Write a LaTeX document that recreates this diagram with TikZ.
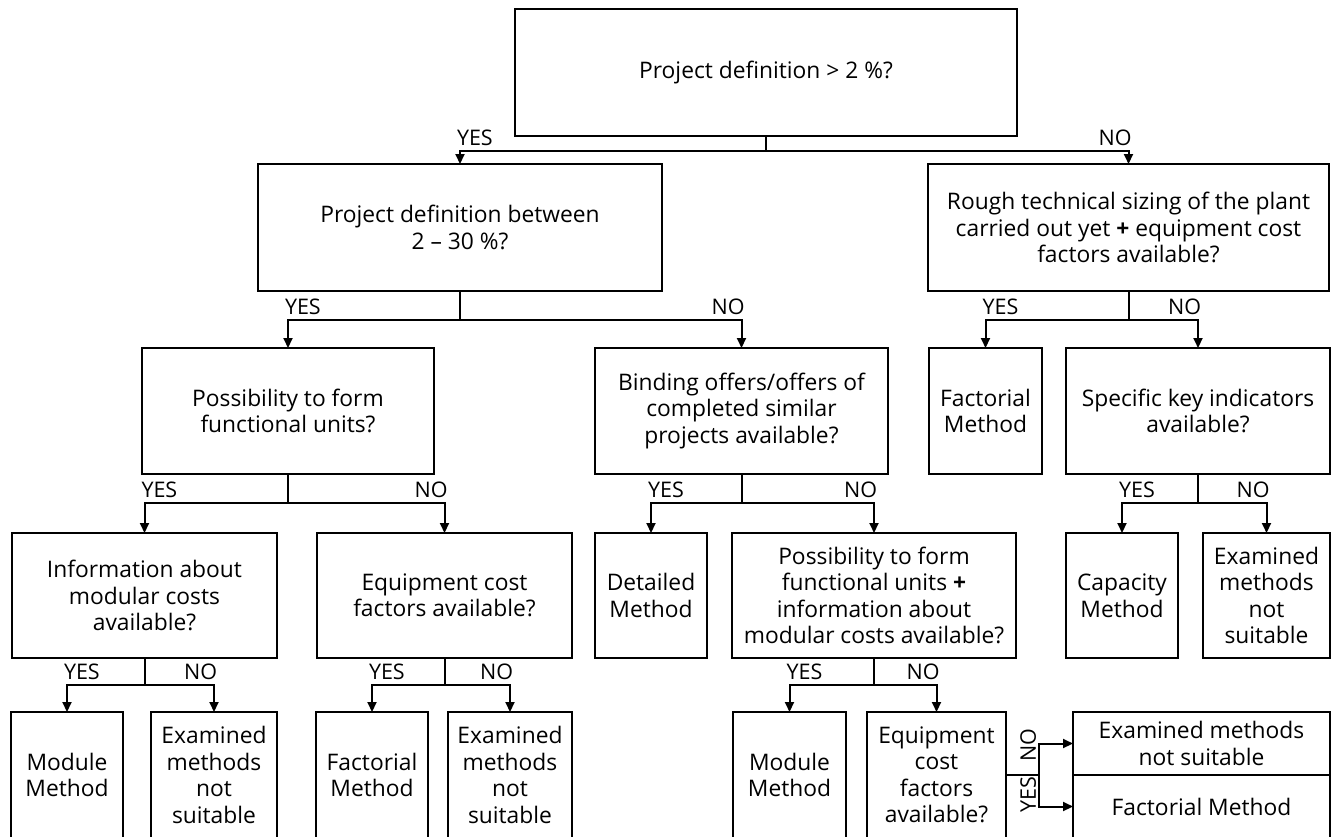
\documentclass[tikz,border=0pt]{standalone}
\usepackage{fontspec}
\setmainfont{Open Sans}
\usetikzlibrary{arrows.meta}

\begin{document}
\begin{tikzpicture}[
    x=1pt, y=-1pt,
    every node/.style={align=center, inner sep=0pt, outer sep=0pt},
    qbox/.style 2 args={draw, line width=2.2pt, minimum width=#1pt, minimum height=#2pt,
        font=\fontsize{22.8}{26.5}\selectfont},
    yes/.style={pos=0.5, anchor=south west, xshift=-3pt, yshift=5pt, font=\fontsize{21.5}{21.5}\selectfont},
    no/.style={pos=0.5, anchor=south east, xshift=3pt, yshift=5pt, font=\fontsize{21.5}{21.5}\selectfont},
    sidelbl/.style={rotate=90, anchor=south, font=\fontsize{21.5}{21.5}\selectfont},
    branch/.style={line width=2pt, -{Triangle[length=10pt,width=9pt]}}
]
    \clip (0,0) rectangle (1331,836);

    \node[qbox={502}{127}] (root) at (766,72.5) {Project definition > 2~\%?};

    \node[qbox={404}{127}] (defRange) at (460,227.5) {Project definition between\\2 -- 30~\%?};
    \node[qbox={401}{127}] (roughSize) at (1128.5,227.5) {Rough technical sizing of the plant\\carried out yet \textbf{+} equipment cost\\factors available?};

    \node[qbox={292}{126}] (funcUnits) at (288,411) {Possibility to form\\functional units?};
    \node[qbox={293}{126}] (offers) at (741.5,411) {Binding offers/offers of\\completed similar\\projects available?};
    \node[qbox={113}{126}] (factTop) at (985.5,411) {Factorial\\Method};
    \node[qbox={264}{126}] (keyInd) at (1198,411) {Specific key indicators\\available?};

    \node[qbox={265}{125}] (modInfo) at (144.5,595.5) {Information about\\modular costs\\available?};
    \node[qbox={255}{125}] (equipCost) at (444.5,595.5) {Equipment cost\\factors available?};
    \node[qbox={112}{125}] (detailed) at (651,595.5) {Detailed\\Method};
    \node[qbox={284}{125}] (funcMod) at (874,595.5) {Possibility to form\\functional units \textbf{+}\\information about\\modular costs available?};
    \node[qbox={112}{125}] (capacity) at (1122,595.5) {Capacity\\Method};
    \node[qbox={127}{125}] (notSuitA) at (1266.5,595.5) {Examined\\methods\\not\\suitable};

    \node[qbox={112}{126}] (moduleA) at (67,775) {Module\\Method};
    \node[qbox={126}{126}] (notSuitB) at (214,775) {Examined\\methods\\not\\suitable};
    \node[qbox={112}{126}] (factMid) at (372,775) {Factorial\\Method};
    \node[qbox={124}{126}] (notSuitC) at (510,775) {Examined\\methods\\not\\suitable};
    \node[qbox={113}{126}] (moduleB) at (789.5,775) {Module\\Method};
    \node[qbox={139}{126}] (equipB) at (936.5,775) {Equipment\\cost\\factors\\available?};
    \node[qbox={257}{63}] (notSuitD) at (1201.5,743.5) {Examined methods\\not suitable};
    \node[qbox={257}{63}] (factEnd) at (1201.5,806.5) {Factorial Method};

    \draw[branch] (root.south) -- ++(0,15) -| node[yes] {YES} (defRange.north);
    \draw[branch] (root.south) -- ++(0,15) -| node[no] {NO} (roughSize.north);

    \draw[branch] (defRange.south) -- ++(0,29) -| node[yes] {YES} (funcUnits.north);
    \draw[branch] (defRange.south) -- ++(0,29) -| node[no] {NO} (offers.north);
    \draw[branch] (roughSize.south) -- ++(0,29) -| node[yes] {YES} (factTop.north);
    \draw[branch] (roughSize.south) -- ++(0,29) -| node[no] {NO} (keyInd.north);

    \draw[branch] (funcUnits.south) -- ++(0,29) -| node[yes] {YES} (modInfo.north);
    \draw[branch] (funcUnits.south) -- ++(0,29) -| node[no] {NO} (equipCost.north);
    \draw[branch] (offers.south) -- ++(0,29) -| node[yes] {YES} (detailed.north);
    \draw[branch] (offers.south) -- ++(0,29) -| node[no] {NO} (funcMod.north);
    \draw[branch] (keyInd.south) -- ++(0,29) -| node[yes] {YES} (capacity.north);
    \draw[branch] (keyInd.south) -- ++(0,29) -| node[no] {NO} (notSuitA.north);

    \draw[branch] (modInfo.south) -- ++(0,27) -| node[yes] {YES} (moduleA.north);
    \draw[branch] (modInfo.south) -- ++(0,27) -| node[no] {NO} (notSuitB.north);
    \draw[branch] (equipCost.south) -- ++(0,27) -| node[yes] {YES} (factMid.north);
    \draw[branch] (equipCost.south) -- ++(0,27) -| node[no] {NO} (notSuitC.north);
    \draw[branch] (funcMod.south) -- ++(0,27) -| node[yes] {YES} (moduleB.north);
    \draw[branch] (funcMod.south) -- ++(0,27) -| node[no] {NO} (equipB.north);

    \draw[branch] (equipB.east) -- ++(33,0) coordinate (split) |- (notSuitD.west);
    \draw[branch] (split) |- (factEnd.west);
    \node[sidelbl] at ([xshift=-3pt, yshift=30pt]split) {NO};
    \node[sidelbl] at ([xshift=-3pt, yshift=-20pt]split) {YES};
\end{tikzpicture}
\end{document}
